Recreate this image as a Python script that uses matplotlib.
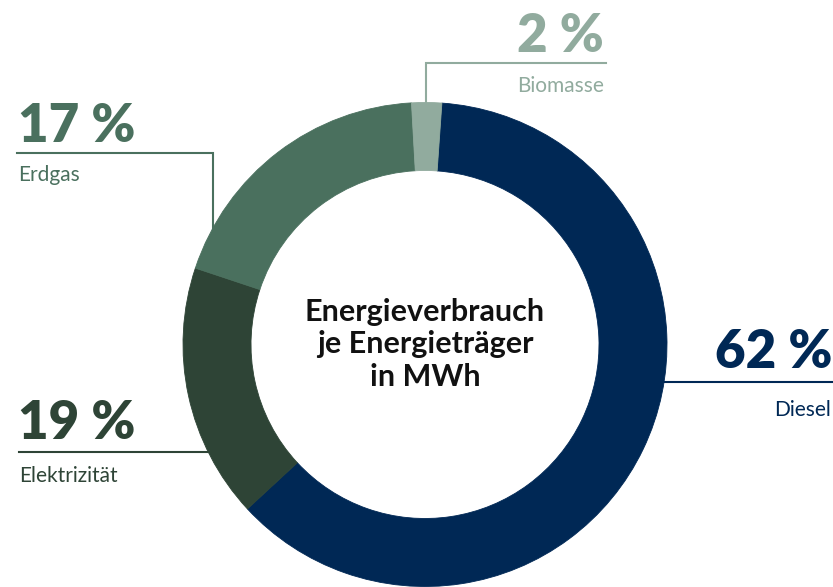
import matplotlib.pyplot as plt

traeger = ["Diesel", "Elektrizität", "Erdgas", "Biomasse"]
anteile = [62, 17, 19, 2]
prozent_text = ["62 %", "19 %", "17 %", "2 %"]
farben = ["#002855", "#2e4436", "#4a705e", "#91ab9e"]
titel = "Energieverbrauch\nje Energieträger\nin MWh"

W, H = 833, 587
plt.rcParams['font.family'] = ['Lato', 'DejaVu Sans']

fig = plt.figure(figsize=(W / 100, H / 100), dpi=100)

# Overlay-Achse in Pixelkoordinaten fuer Beschriftungen und Fuehrungslinien
ov = fig.add_axes([0, 0, 1, 1])
ov.set_xlim(0, W)
ov.set_ylim(H, 0)
ov.set_axis_off()

# Ring
cx, cy, r = 425, 344.5, 242
ax = fig.add_axes([(cx - r) / W, (H - cy - r) / H, 2 * r / W, 2 * r / H])
ax.set_facecolor('none')
ax.pie(anteile, colors=farben, startangle=86, counterclock=False,
       radius=1, wedgeprops=dict(width=68 / r, linewidth=0.6))
for w, c in zip(ax.patches, farben):
    w.set_edgecolor(c)
ax.set_xlim(-1, 1)
ax.set_ylim(-1, 1)
ax.set_aspect('equal')
ax.set_axis_off()

ax.text(0, 0.0, titel, ha='center', va='center', fontsize=22,
        fontweight='bold', color='#111111', linespacing=1.2)

lw = 1.5
big = 38
small = 15
gross = 'heavy'

# Erdgas
c = farben[2]
ov.plot([17, 213, 213], [153, 153, 240], color=c, lw=lw, solid_joinstyle='miter')
ov.text(18, 142, prozent_text[2], color=c, fontsize=big, fontweight=gross, va='baseline')
ov.text(18, 181, traeger[2], color=c, fontsize=small, va='baseline')

# Biomasse
c = farben[3]
ov.plot([606, 426, 426], [63, 63, 115], color=c, lw=lw, solid_joinstyle='miter')
ov.text(604, 52, prozent_text[3], color=c, fontsize=big, fontweight=gross,
        va='baseline', ha='right')
ov.text(604, 92, traeger[3], color=c, fontsize=small, va='baseline', ha='right')

# Diesel
c = farben[0]
ov.plot([650, W], [382, 382], color=c, lw=lw)
ov.text(715, 368, prozent_text[0], color=c, fontsize=big, fontweight=gross, va='baseline')
ov.text(831, 416, traeger[0], color=c, fontsize=small, va='baseline', ha='right')

# Elektrizitaet
c = farben[1]
ov.plot([19, 225], [452, 452], color=c, lw=lw)
ov.text(18, 439, prozent_text[1], color=c, fontsize=big, fontweight=gross, va='baseline')
ov.text(19, 482, traeger[1], color=c, fontsize=small, va='baseline')

fig.savefig('out.png', dpi=100)
